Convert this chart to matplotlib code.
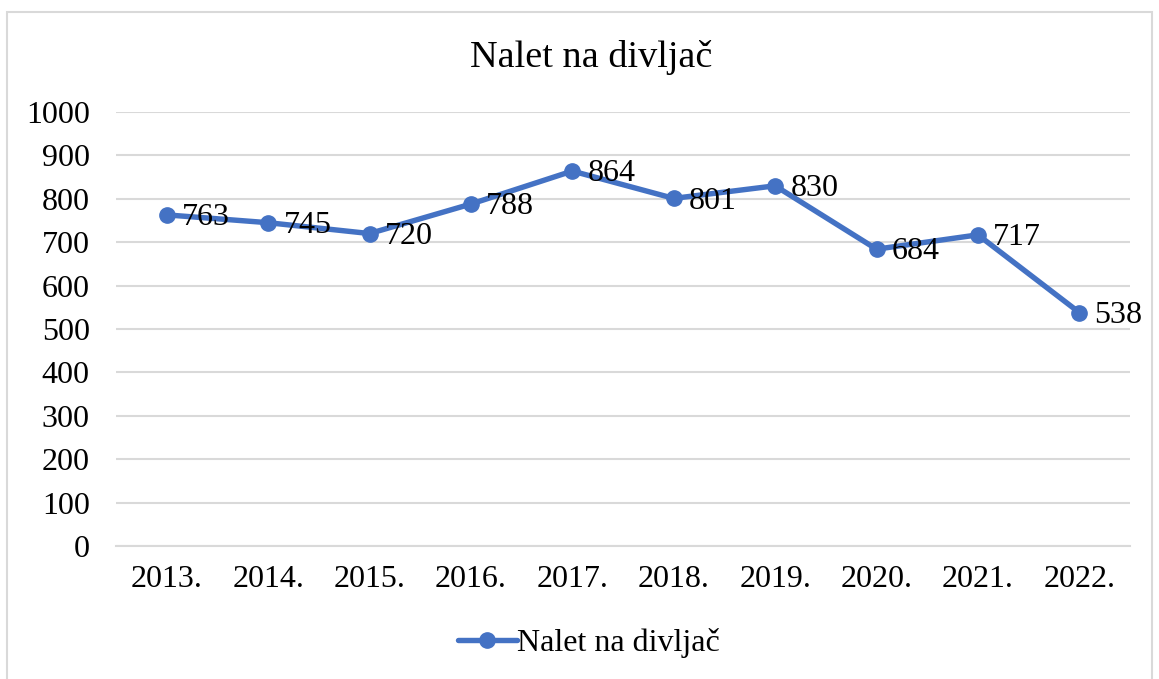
import matplotlib.pyplot as plt
from matplotlib.patches import Rectangle

years = ['2013.', '2014.', '2015.', '2016.', '2017.', '2018.', '2019.', '2020.', '2021.', '2022.']
values = [763, 745, 720, 788, 864, 801, 830, 684, 717, 538]
series_name = 'Nalet na divljač'

plt.rcParams['font.family'] = ['Liberation Serif', 'DejaVu Serif']
blue = '#4472C4'
grid_grey = '#D9D9D9'

fig = plt.figure(figsize=(11.59, 6.79), dpi=100)
ax = fig.add_axes([0.1001, 0.1959, 0.8749, 0.6391])

x = list(range(len(years)))
ax.plot(x, values, color=blue, linewidth=3.9, marker='o', markersize=11,
        label=series_name, solid_capstyle='round')

for xi, v in zip(x, values):
    ax.annotate(str(v), (xi, v), xytext=(11, -2), textcoords='offset points',
                ha='left', va='center', fontsize=23, color='black')

ax.set_xlim(-0.5, len(years) - 0.5)
ax.set_ylim(0, 1000)
ax.set_yticks(range(0, 1001, 100))
ax.set_xticks(x)
ax.set_xticklabels(years)
ax.tick_params(axis='both', length=0, labelsize=23, colors='black')
ax.tick_params(axis='y', pad=19)
ax.tick_params(axis='x', pad=14)
ax.yaxis.grid(True, color=grid_grey, linewidth=1.5)
ax.set_axisbelow(True)
for s in ['top', 'right', 'left']:
    ax.spines[s].set_visible(False)
ax.spines['bottom'].set_color(grid_grey)
ax.spines['bottom'].set_linewidth(1.5)

fig.text(0.5105, 0.915, series_name, ha='center', va='center', fontsize=27.5)

fig.legend(loc='center', bbox_to_anchor=(0.508, 0.053), frameon=False,
           fontsize=23, handlelength=1.85, handletextpad=0.0)

# outer chart border
fig.patches.append(Rectangle((7 / 1159, -0.01), 1145 / 1159, 1 - 12 / 679 + 0.01,
                             transform=fig.transFigure, fill=False,
                             edgecolor=grid_grey, linewidth=1.5))

fig.savefig('out.png', dpi=100, facecolor='white')
